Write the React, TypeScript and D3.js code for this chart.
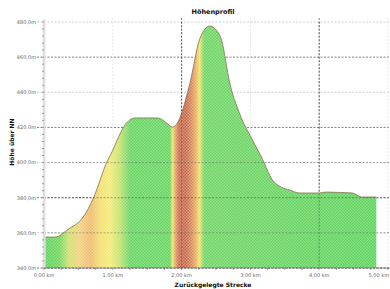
import * as d3 from 'd3';
import React from 'react';

// Höhenprofil: distance (km) vs elevation (m)
const distKm = [0, 0.16, 0.35, 0.57, 0.72, 0.91, 1.0, 1.06, 1.17, 1.32, 1.65, 1.8, 1.86, 1.92, 2.12, 2.26, 2.34, 2.41, 2.49, 2.58, 2.7, 2.84, 3.03, 3.16, 3.32, 3.45, 3.57, 3.71, 4.0, 4.1, 4.3, 4.48, 4.62, 4.83];
const elevM = [357.6, 357.6, 362, 369, 380, 400, 407, 412.5, 421, 425.4, 425.4, 422, 420.2, 421.5, 445, 470, 476, 477.7, 476, 469.8, 445.3, 428.2, 412.8, 403.2, 390.1, 386, 384.4, 382.7, 382.7, 383.2, 383, 382.7, 380.4, 380.4];

const yTicks = [340, 360, 380, 400, 420, 440, 460, 480];
const xTicks = [0, 1, 2, 3, 4, 5];

// slope colouring along the route (km -> colour)
const slopeStops: [number, string][] = [
  [0, '#58d258'], [0.22, '#6ad45a'], [0.36, '#cfe06a'], [0.52, '#f2cf78'],
  [0.68, '#eeb868'], [0.82, '#f3df6a'], [0.96, '#f2ea72'], [1.1, '#c2e26a'],
  [1.25, '#62d45e'], [1.83, '#62d45e'], [1.87, '#f0e264'], [1.91, '#e2a060'],
  [1.96, '#c86848'], [2.06, '#c46644'], [2.14, '#d88458'], [2.2, '#e8a860'],
  [2.26, '#f0e264'], [2.33, '#6cd460'], [5, '#58d258'],
];

const W = 390, H = 289;
const m = { left: 44, right: 2, top: 22, bottom: 21 };

export default function App() {
  const x = d3.scaleLinear().domain([0, 5]).range([m.left, 388]);
  const y = d3.scaleLinear().domain([340, 480]).range([H - m.bottom, m.top]);
  const pts = distKm.map((d, i) => [d, elevM[i]] as [number, number]);

  const area = d3.area<[number, number]>()
    .x(d => x(d[0])).y0(y(340)).y1(d => y(d[1]))
    .curve(d3.curveMonotoneX);
  const line = d3.line<[number, number]>()
    .x(d => x(d[0])).y(d => y(d[1]))
    .curve(d3.curveMonotoneX);

  const minorY = d3.range(340, 481, 4);
  const minorX = d3.range(0, 5.01, 0.25);
  const font = 'DejaVu Sans, sans-serif';

  return (
    <svg width={W} height={H} style={{ position: 'absolute', left: 0, top: 0, background: '#fff' }}>
      <defs>
        <linearGradient id="slope" gradientUnits="userSpaceOnUse" x1={x(0)} x2={x(5)} y1={0} y2={0}>
          {slopeStops.map(([k, c], i) => (
            <stop key={i} offset={k / 5} stopColor={c} />
          ))}
        </linearGradient>
        <pattern id="checker" width={3} height={3} patternUnits="userSpaceOnUse">
          <rect x={0} y={0} width={1.5} height={1.5} fill="#fff" fillOpacity={0.3} />
          <rect x={1.5} y={1.5} width={1.5} height={1.5} fill="#fff" fillOpacity={0.3} />
        </pattern>
      </defs>

      {/* horizontal grid */}
      {yTicks.map((t, i) => (
        <line key={'gy' + t} x1={m.left - 7} x2={W} y1={y(t)} y2={y(t)}
          stroke={i % 2 === 0 ? '#444' : '#bbb'} strokeWidth={0.7} strokeDasharray="2,1.5" />
      ))}
      {/* vertical grid */}
      {xTicks.slice(1).map(t => (
        <line key={'gx' + t} x1={x(t)} x2={x(t)} y1={m.top - 4} y2={y(340)}
          stroke={t % 2 === 0 ? '#444' : '#ddd'} strokeWidth={0.7} strokeDasharray="2,1.5" />
      ))}

      {/* profile */}
      <path d={area(pts) || ''} fill="url(#slope)" />
      <path d={area(pts) || ''} fill="url(#checker)" />
      <path d={line(pts) || ''} fill="none" stroke="#8a7050" strokeWidth={0.8} />

      {/* grid lines over profile */}
      {yTicks.slice(0, 4).map((t, i) => (
        <line key={'go' + t} x1={m.left} x2={W} y1={y(t)} y2={y(t)}
          stroke={i % 2 === 0 ? '#444' : '#666'} strokeWidth={0.6} strokeDasharray="2,1.5" strokeOpacity={0.85} />
      ))}
      {xTicks.slice(1).filter(t => t % 2 === 0).map(t => (
        <line key={'gxo' + t} x1={x(t)} x2={x(t)} y1={m.top} y2={y(340)}
          stroke="#444" strokeWidth={0.6} strokeDasharray="2,1.5" strokeOpacity={0.8} />
      ))}

      {/* left axis */}
      <rect x={m.left - 1.5} y={m.top - 3} width={3} height={y(340) - m.top + 3} fill="#eee" />
      <line x1={m.left} x2={m.left} y1={m.top - 3} y2={y(340)} stroke="#bbb" strokeWidth={0.6} />
      {minorY.map(t => (
        <line key={'my' + t} x1={m.left - 2} x2={m.left} y1={y(t)} y2={y(t)} stroke="#666" strokeWidth={0.6} />
      ))}
      {yTicks.map(t => (
        <text key={'ly' + t} x={m.left - 8} y={y(t) + 1.8} textAnchor="end" fontSize={5} fill="#666" fontFamily={font}>
          {d3.format('.1f')(t).replace('.', ',')}m
        </text>
      ))}

      {/* bottom axis */}
      <line x1={m.left} x2={W} y1={y(340)} y2={y(340)} stroke="#666" strokeWidth={0.6} />
      {minorX.map(t => (
        <line key={'mx' + t} x1={x(t)} x2={x(t)} y1={y(340)} y2={y(340) + 2} stroke="#666" strokeWidth={0.6} />
      ))}
      {xTicks.map(t => (
        <text key={'lx' + t} x={t === 5 ? W - 1 : x(t)} y={y(340) + 9}
          textAnchor={t === 5 ? 'end' : 'middle'} fontSize={5} fill="#666" fontFamily={font}>
          {d3.format('.2f')(t).replace('.', ',')} km
        </text>
      ))}

      {/* titles */}
      <text x={213} y={14} textAnchor="middle" fontSize={6.5} fontWeight="bold" fill="#111" fontFamily={font}>Höhenprofil</text>
      <text x={213} y={287} textAnchor="middle" fontSize={6} fontWeight="bold" fill="#111" fontFamily={font}>Zurückgelegte Strecke</text>
      <text transform="translate(14,142) rotate(-90)" textAnchor="middle" fontSize={6} fontWeight="bold" fill="#111" fontFamily={font}>Höhe über NN</text>
    </svg>
  );
}
